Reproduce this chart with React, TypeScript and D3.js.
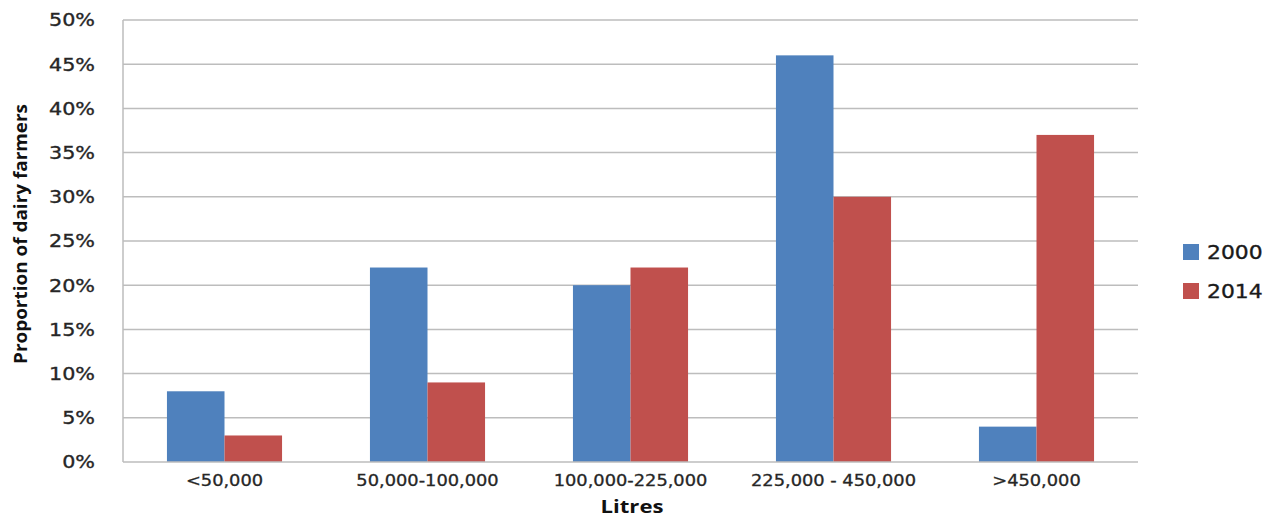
import React from "react";
import * as d3 from "d3";

const categories = ["<50,000", "50,000-100,000", "100,000-225,000", "225,000 - 450,000", ">450,000"];
const seriesNames = ["2000", "2014"];
const values2000 = [8, 22, 20, 46, 4];
const values2014 = [3, 9, 22, 30, 37];
const yTicks = [0, 5, 10, 15, 20, 25, 30, 35, 40, 45, 50];
const colors = ["#4F81BD", "#C0504D"];

const W = 1274;
const H = 519;
const left = 123;
const right = 1138;
const top = 20;
const bottom = 462;

// Labels are drawn a little wider than the font's natural width
const STRETCH = 1.15;

export default function App() {
  const x = d3.scaleBand<string>().domain(categories).range([left, right]).paddingInner(0).paddingOuter(0);
  const groupW = x.bandwidth() * 0.567;
  const xs = d3.scaleBand<string>().domain(seriesNames).range([0, groupW]).padding(0);
  const y = d3.scaleLinear().domain([0, 50]).range([bottom, top]);
  const series = [values2000, values2014];
  const tickFont = "'DejaVu Sans', Verdana, sans-serif";
  const ink = "#262626";

  return (
    <svg width={W} height={H} style={{ position: "absolute", left: 0, top: 0, background: "#fff" }}>
      {yTicks.map((t) => (
        <g key={t}>
          {t > 0 && (
            <line x1={left} x2={right} y1={y(t)} y2={y(t)} stroke="#bdbdbd" strokeWidth={1.5} />
          )}
          <text
            transform={`translate(95,${y(t)}) scale(${STRETCH},1)`}
            dy="0.36em"
            textAnchor="end"
            fontFamily={tickFont}
            fontSize={18}
            fill={ink}
            stroke={ink}
            strokeWidth={0.35}
          >
            {t}%
          </text>
        </g>
      ))}
      {categories.map((c, i) => {
        const gx = (x(c) as number) + (x.bandwidth() - groupW) / 2;
        return (
          <g key={c}>
            {series.map((vals, s) => (
              <rect
                key={s}
                x={gx + (xs(seriesNames[s]) as number)}
                y={y(vals[i])}
                width={xs.bandwidth()}
                height={bottom - y(vals[i])}
                fill={colors[s]}
              />
            ))}
            <text
              transform={`translate(${(x(c) as number) + x.bandwidth() / 2},486) scale(${STRETCH},1)`}
              textAnchor="middle"
              fontFamily={tickFont}
              fontSize={15.5}
              fill={ink}
              stroke={ink}
              strokeWidth={0.3}
            >
              {c}
            </text>
          </g>
        );
      })}
      <line x1={left} x2={left} y1={top} y2={bottom} stroke="#bdbdbd" strokeWidth={1.5} />
      <line x1={left} x2={right} y1={bottom} y2={bottom} stroke="#bdbdbd" strokeWidth={1.5} />
      <text
        x={632}
        y={513}
        textAnchor="middle"
        fontFamily="'Open Sans', sans-serif"
        fontWeight="bold"
        fontSize={17}
        fill="#111"
        textLength={63}
        lengthAdjust="spacingAndGlyphs"
      >
        Litres
      </text>
      <text
        transform={`translate(27,234) rotate(-90)`}
        textAnchor="middle"
        fontFamily="'Open Sans', sans-serif"
        fontWeight="bold"
        fontSize={17}
        fill="#111"
        textLength={260}
        lengthAdjust="spacingAndGlyphs"
      >
        Proportion of dairy farmers
      </text>
      {seriesNames.map((n, s) => (
        <g key={n} transform={`translate(1183,${244 + s * 39})`}>
          <rect x={0} y={0} width={16} height={16} fill={colors[s]} />
          <text
            transform={`translate(24,8) scale(${STRETCH},1)`}
            dy="0.36em"
            fontFamily={tickFont}
            fontSize={19}
            fill="#1a1a1a"
            stroke="#1a1a1a"
            strokeWidth={0.35}
          >
            {n}
          </text>
        </g>
      ))}
    </svg>
  );
}
